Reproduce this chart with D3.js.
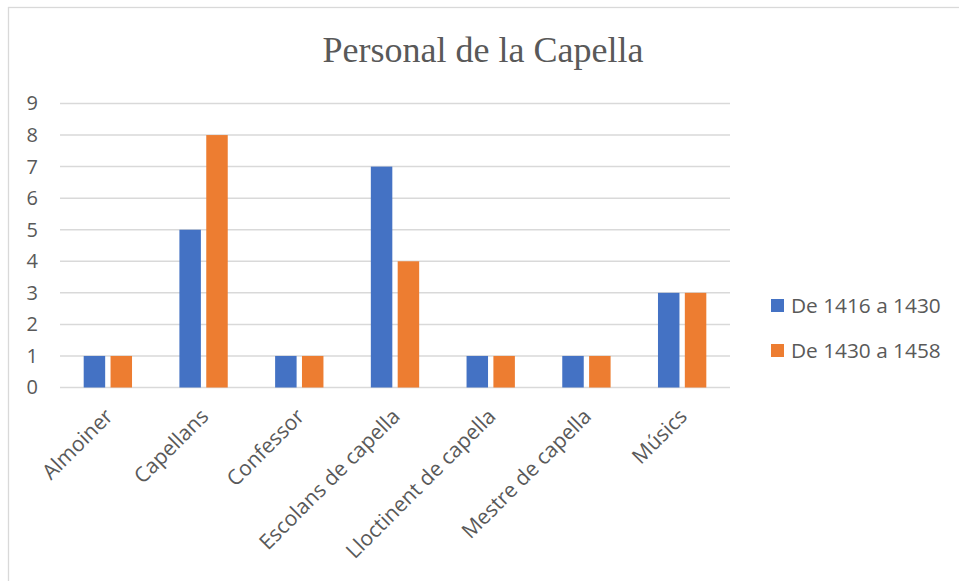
<!DOCTYPE html>
<html>
<head>
<meta charset="utf-8">
<script src="https://cdn.jsdelivr.net/npm/d3@7"></script>
<style>
  body { margin: 0; background: #fff; }
  svg { display: block; }
</style>
</head>
<body>
<div id="target"></div>
<script>
var width = 959,
    height = 581;

var categories = ['Almoiner', 'Capellans', 'Confessor', 'Escolans de capella',
    'Lloctinent de capella', 'Mestre de capella', 'Músics'];
var seriesNames = ['De 1416 a 1430', 'De 1430 a 1458'];
var values1416 = [1, 5, 1, 7, 1, 1, 3];
var values1430 = [1, 8, 1, 4, 1, 1, 3];
var yTicks = [0, 1, 2, 3, 4, 5, 6, 7, 8, 9];

var colorScale = ['#4472c4', '#ed7d31'];
var textColor = '#595959';
var gridColor = '#d9d9d9';
var uiFont = "'Open Sans', 'Noto Sans', sans-serif";

var plot = {left: 60, right: 730, top: 103.5, bottom: 387.5};

var svg = d3.select('#target').append('svg')
    .attr('width', width)
    .attr('height', height);

// chart frame (only top and left edges are visible)
svg.append('rect')
    .attr('x', 8.5)
    .attr('y', 7.5)
    .attr('width', width + 10)
    .attr('height', height + 10)
    .attr('fill', 'none')
    .attr('stroke', gridColor)
    .attr('stroke-width', 1.3);

var xScale = d3.scaleBand()
    .domain(categories)
    .range([plot.left, plot.right])
    .paddingInner(0.495)
    .paddingOuter(0.2475);

var xInner = d3.scaleBand()
    .domain(seriesNames)
    .range([0, xScale.bandwidth()])
    .paddingInner(0.2);

var yScale = d3.scaleLinear().domain([0, 9]).range([plot.bottom, plot.top]);

// gridlines
svg.append('g')
    .selectAll('line')
    .data(yTicks)
    .enter()
    .append('line')
    .attr('x1', plot.left)
    .attr('x2', plot.right)
    .attr('y1', function (d) { return yScale(d); })
    .attr('y2', function (d) { return yScale(d); })
    .attr('stroke', gridColor)
    .attr('stroke-width', 1.5);

// y axis labels
var yAxis = d3.axisLeft(yScale).tickValues(yTicks).tickSize(0).tickPadding(0);
var yg = svg.append('g')
    .attr('transform', 'translate(38,0)')
    .call(yAxis);
yg.select('.domain').remove();
yg.selectAll('text')
    .attr('fill', textColor)
    .style('font-family', uiFont)
    .style('font-size', '20px');

// bars
var rows = categories.map(function (c, i) {
    return {cat: c, vals: [values1416[i], values1430[i]]};
});

var groups = svg.append('g')
    .selectAll('g')
    .data(rows)
    .enter()
    .append('g')
    .attr('transform', function (d) { return 'translate(' + xScale(d.cat) + ',0)'; });

groups.selectAll('rect')
    .data(function (d) {
        return d.vals.map(function (v, j) { return {name: seriesNames[j], value: v, j: j}; });
    })
    .enter()
    .append('rect')
    .attr('x', function (d) { return xInner(d.name); })
    .attr('width', xInner.bandwidth())
    .attr('y', function (d) { return yScale(d.value); })
    .attr('height', function (d) { return yScale(0) - yScale(d.value); })
    .attr('fill', function (d) { return colorScale[d.j]; });

// x axis labels (rotated)
var xAxis = d3.axisBottom(xScale).tickSize(0).tickPadding(0);
var xg = svg.append('g')
    .attr('transform', 'translate(0,' + (plot.bottom + 16) + ')')
    .call(xAxis);
xg.select('.domain').remove();
xg.selectAll('text')
    .attr('fill', textColor)
    .style('font-family', uiFont)
    .style('font-size', '21px')
    .attr('text-anchor', 'end')
    .attr('dy', '0.35em')
    .attr('transform', 'translate(1,9) rotate(-45)');

// title
svg.append('text')
    .attr('x', 483)
    .attr('y', 62)
    .attr('text-anchor', 'middle')
    .attr('fill', textColor)
    .style('font-family', "'Liberation Serif', 'DejaVu Serif', serif")
    .style('font-size', '36px')
    .text('Personal de la Capella');

// legend
var legend = svg.append('g')
    .selectAll('g')
    .data(seriesNames)
    .enter()
    .append('g')
    .attr('transform', function (d, i) { return 'translate(771,' + (299 + i * 45) + ')'; });

legend.append('rect')
    .attr('width', 13)
    .attr('height', 13)
    .attr('fill', function (d, i) { return colorScale[i]; });

legend.append('text')
    .attr('x', 20)
    .attr('y', 14)
    .attr('fill', textColor)
    .style('font-family', uiFont)
    .style('font-size', '20.8px')
    .text(function (d) { return d; });
</script>
</body>
</html>
